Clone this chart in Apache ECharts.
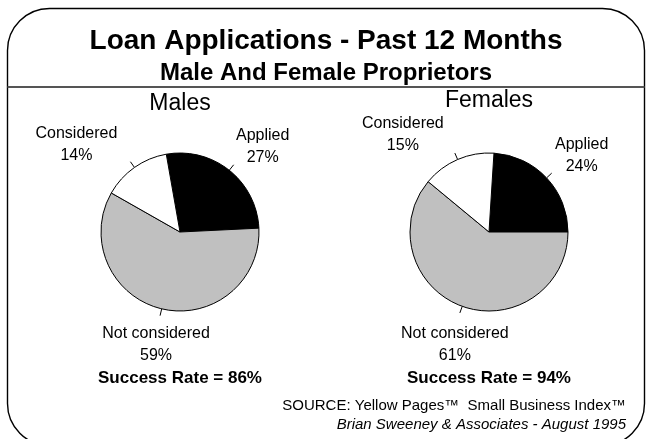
<!DOCTYPE html>
<html>
<head>
<meta charset="utf-8">
<title>Loan Applications - Past 12 Months</title>
<script src="https://cdn.jsdelivr.net/npm/echarts@6/dist/echarts.min.js"></script>
<style>
  html, body { margin: 0; padding: 0; background: #fff; }
  #chart { width: 652px; height: 439px; }
</style>
</head>
<body>
<div id="chart"></div>
<script>
// Loan application outcomes by proprietor gender (percent of respondents)
const categories = ['Applied', 'Not considered', 'Considered'];
const maleShares = [27, 59, 14];
const femaleShares = [24, 61, 15];
const groupNames = ['Males', 'Females'];
const successRates = [86, 94];

const sliceColors = ['#000000', '#c0c0c0', '#ffffff'];
const FONT = '"Liberation Sans", Arial, sans-serif';

// where each label block sits relative to the end of its tick: [dx, dy, verticalAlign]
const labelPlacement = [
  [[29, 4, 'bottom'], [-4, 7, 'top'], [-54, 5, 'bottom']],
  [[30, 4, 'bottom'], [-5, 10, 'top'], [-52, 4, 'bottom']]
];

const pieCenters = [[180, 232], [489, 232]];
const pieStart = [100, 86.4];
const RADIUS = 79;

function makePie(idx, values) {
  return {
    type: 'pie',
    name: groupNames[idx],
    center: pieCenters[idx],
    radius: RADIUS,
    startAngle: pieStart[idx],
    clockwise: true,
    avoidLabelOverlap: false,
    minShowLabelAngle: 0,
    animation: false,
    silent: true,
    data: categories.map((c, i) => ({
      name: c,
      value: values[i],
      itemStyle: { color: sliceColors[i] }
    })),
    itemStyle: { borderColor: '#000', borderWidth: 1 },
    label: {
      show: true,
      position: 'outside',
      formatter: '{b}\n{c}%',
      color: '#000',
      fontFamily: FONT,
      fontSize: 16,
      lineHeight: 22,
      align: 'center'
    },
    labelLine: {
      show: true,
      length: 7,
      length2: 0,
      smooth: false,
      lineStyle: { color: '#000', width: 1 }
    },
    labelLayout: function (p) {
      const pts = p.labelLinePoints;
      const end = pts ? pts[1] : [p.rect.x, p.rect.y];
      const pl = labelPlacement[idx][p.dataIndex];
      return {
        x: end[0] + pl[0],
        y: end[1] + pl[1],
        align: 'center',
        verticalAlign: pl[2],
        labelLinePoints: pts
      };
    }
  };
}

function text(x, y, str, font, align) {
  return {
    type: 'text',
    x: x,
    y: y,
    silent: true,
    style: {
      text: str,
      font: font,
      fill: '#000',
      align: align || 'center',
      verticalAlign: 'middle'
    }
  };
}

const chart = echarts.init(document.getElementById('chart'), null, { renderer: 'canvas' });

chart.setOption({
  backgroundColor: '#ffffff',
  animation: false,
  graphic: [
    {
      type: 'rect',
      silent: true,
      shape: { x: 7.5, y: 8.5, width: 637, height: 437, r: 42 },
      style: { fill: 'none', stroke: '#000', lineWidth: 1.4 }
    },
    {
      type: 'line',
      silent: true,
      shape: { x1: 7.5, y1: 87, x2: 644.5, y2: 87 },
      style: { stroke: '#555', lineWidth: 2 }
    },
    text(326, 41, 'Loan Applications - Past 12 Months', 'bold 28px ' + FONT),
    text(326, 73, 'Male And Female Proprietors', 'bold 24px ' + FONT),
    text(pieCenters[0][0], 104, groupNames[0], '23px ' + FONT),
    text(pieCenters[1][0], 101, groupNames[1], '23px ' + FONT),
    text(pieCenters[0][0], 378, 'Success Rate = ' + successRates[0] + '%', 'bold 17px ' + FONT),
    text(pieCenters[1][0], 378, 'Success Rate = ' + successRates[1] + '%', 'bold 17px ' + FONT),
    text(626, 406, 'SOURCE: Yellow Pages\u2122  Small Business Index\u2122', '15px ' + FONT, 'right'),
    text(626, 425, 'Brian Sweeney & Associates - August 1995', 'italic 15px ' + FONT, 'right')
  ],
  series: [makePie(0, maleShares), makePie(1, femaleShares)]
});
</script>
</body>
</html>
